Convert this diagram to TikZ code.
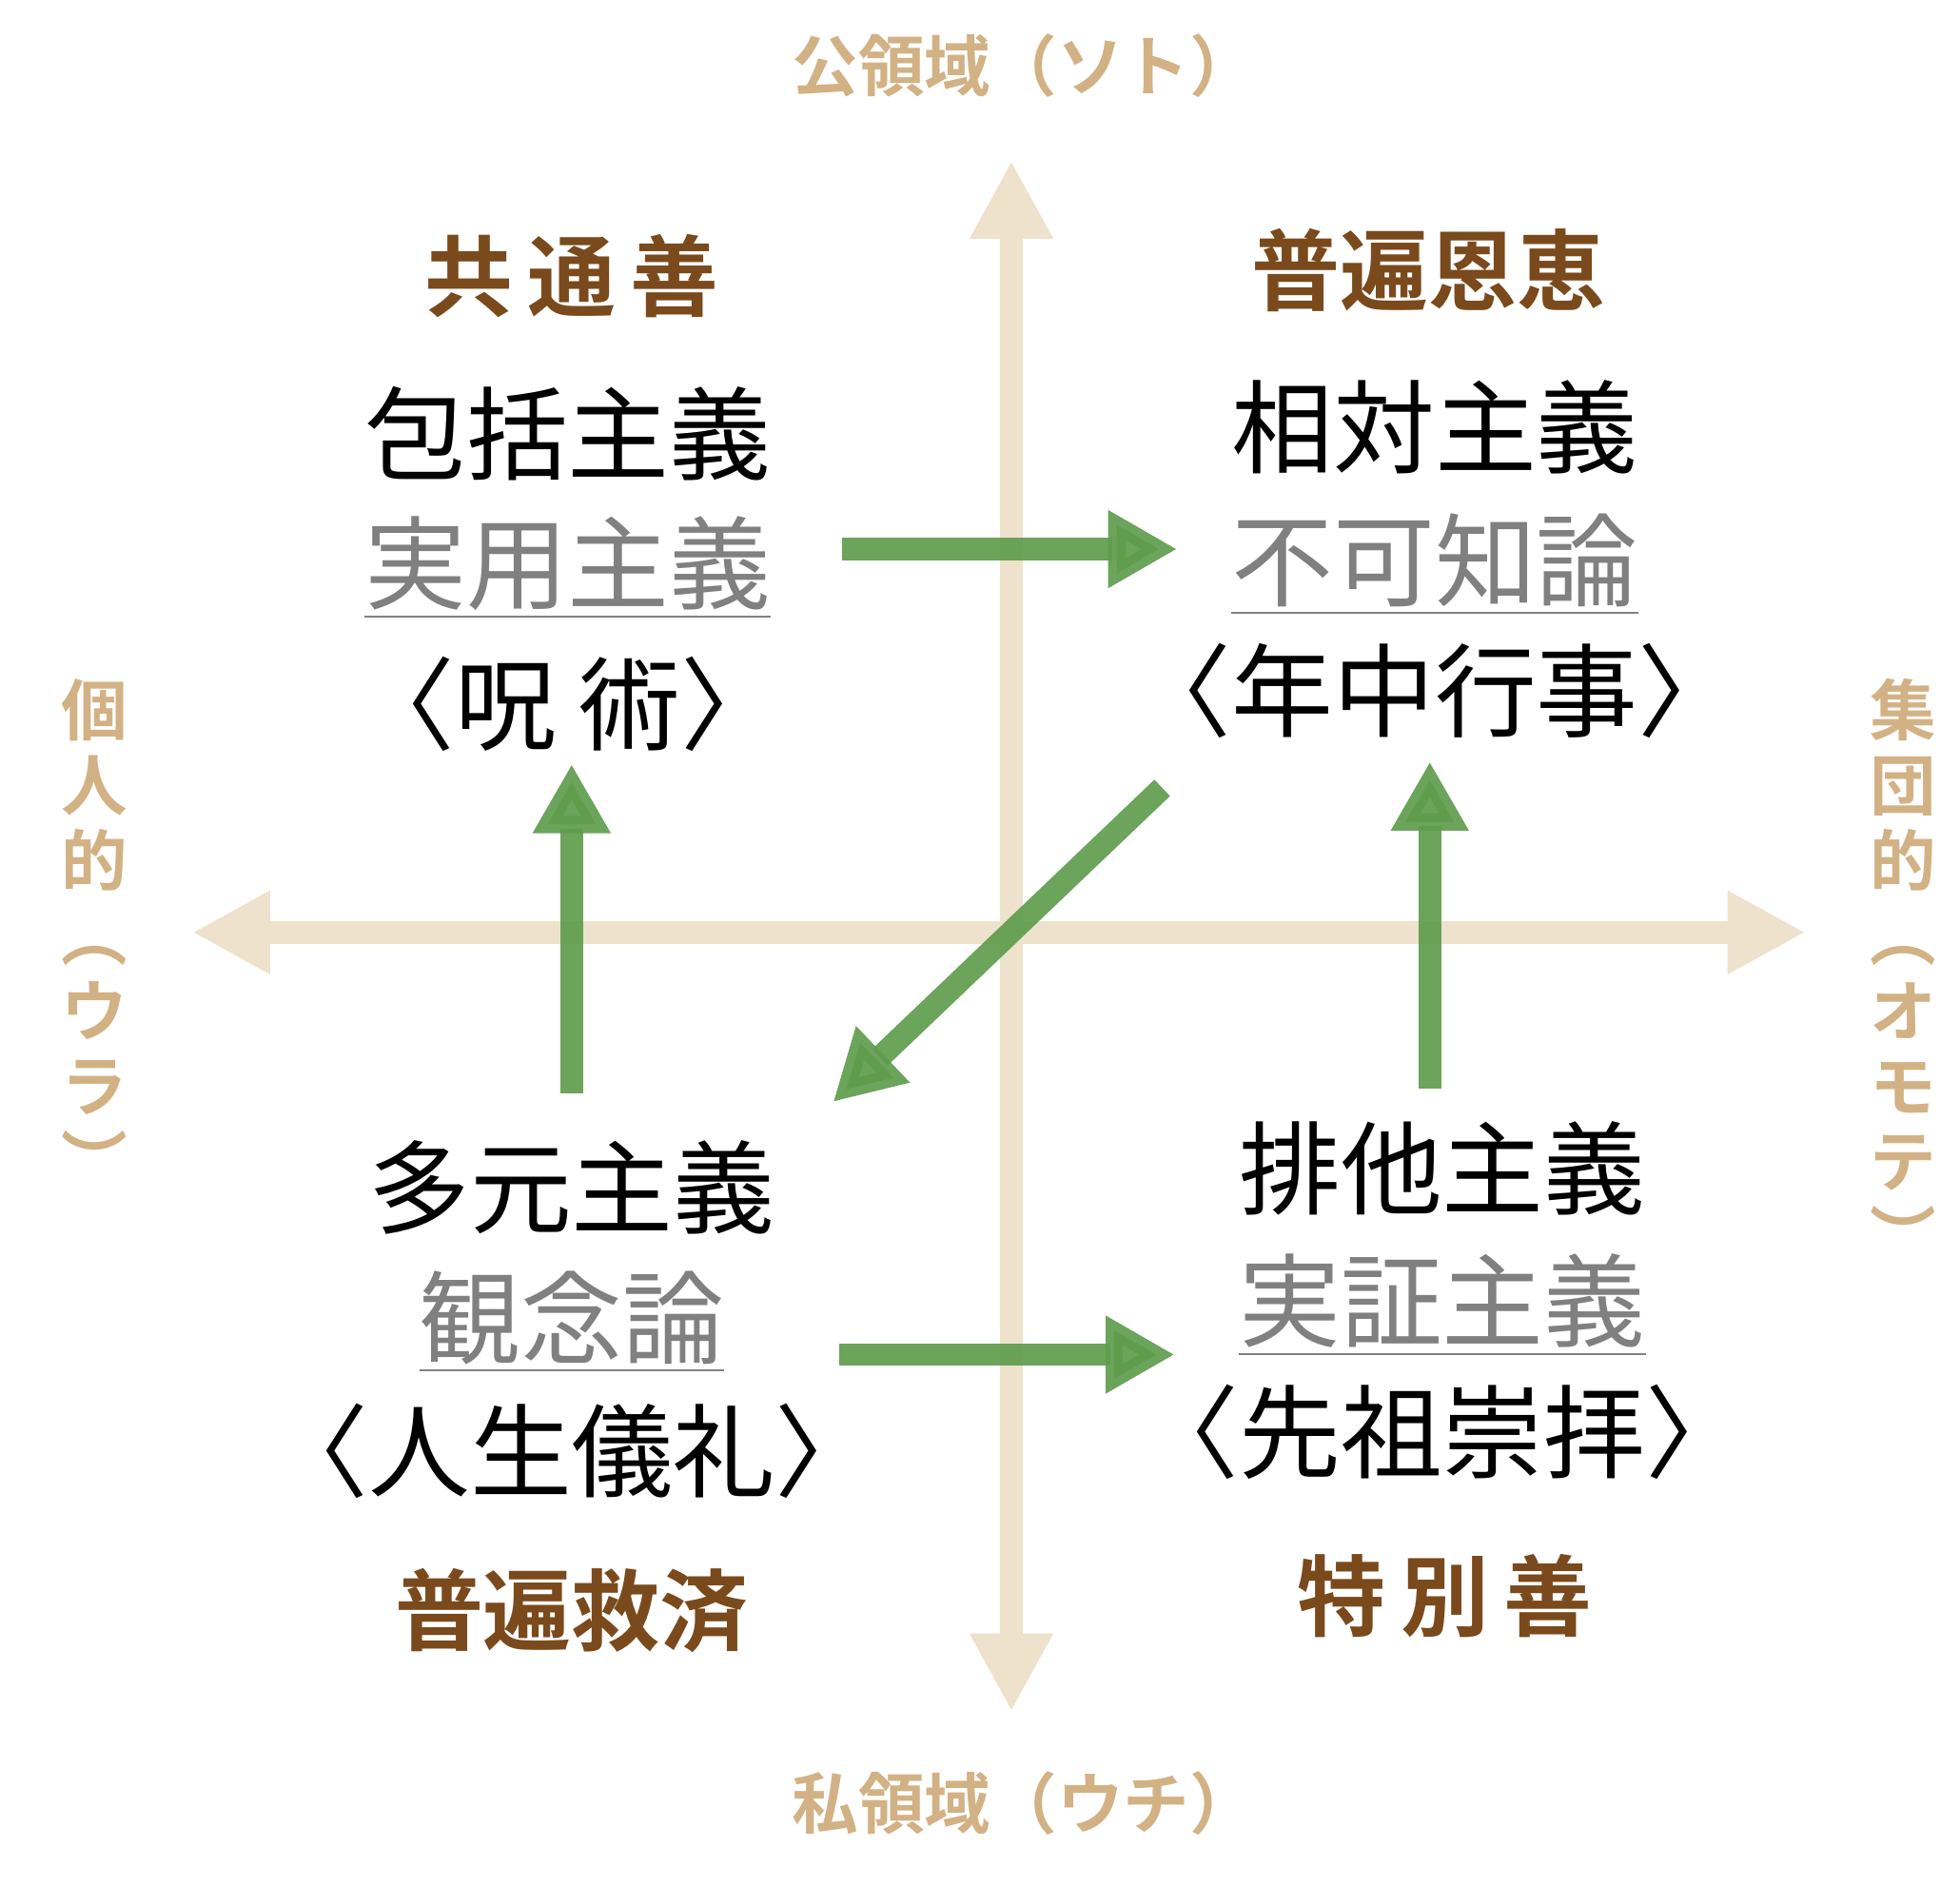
\documentclass[tikz,border=0pt]{standalone}
\usepackage{fontspec}
\newfontfamily\jp{Noto Sans CJK JP}
\newfontfamily\jpb{Noto Sans CJK JP Bold}
\usetikzlibrary{arrows.meta}
\definecolor{axisc}{HTML}{EEE2CC}
\definecolor{axl}{HTML}{D2B285}
\definecolor{brn}{HTML}{7A4A1C}
\definecolor{grn}{HTML}{5E9C4C}
\definecolor{gry}{HTML}{808080}
\tikzset{
 axis/.style={line width=0.18cm,draw=axisc,-{Triangle[width=0.62cm,length=0.62cm]}},
 garr/.style={line width=0.18cm,draw=grn,opacity=0.92,-{Triangle[width=0.58cm,length=0.55cm]}},
 axlab/.style={font=\jpb\fontsize{15}{15}\selectfont,text=axl,inner sep=0},
 vlab/.style={font=\jpb\fontsize{15}{17}\selectfont,text=axl,align=center,inner sep=0},
 title/.style={font=\jpb\fontsize{20}{20}\selectfont,text=brn,inner sep=0},
 main/.style={font=\jp\fontsize{23}{23}\selectfont,inner sep=0},
 sub/.style={font=\jp\fontsize{23}{23}\selectfont,text=gry,inner sep=0},
}
\newcommand{\ul}[1]{\underline{#1}}
\begin{document}
\begin{tikzpicture}[x=0.01cm,y=-0.01cm]
\useasboundingbox (0,0) rectangle (1560,1501);
\coordinate (vb) at (805,1362); \coordinate (vt) at (805,128);
\coordinate (hl) at (153,742); \coordinate (hr) at (1437,742);
\draw[axis] (805,742) -- (vt); \draw[axis] (805,742) -- (vb);
\draw[axis] (805,742) -- (hl); \draw[axis] (805,742) -- (hr);
\node[axlab] (top) at (815,52) {公領域（ソト）};
\node[axlab] (bot) at (815,1435) {私領域（ウチ）};
\node[vlab] (left) at (75,742) {個\\人\\的\\︵\\ウ\\ラ\\︶};
\node[vlab] (right) at (1515,772) {集\\団\\的\\︵\\オ\\モ\\テ\\︶};
\node[title] (t1) at (455,220) {共\,通\,善};
\node[title] (t2) at (1137,215) {普遍恩恵};
\node[title] (t3) at (455,1282) {普遍救済};
\node[title] (t4) at (1150,1270) {特\,別\,善};
\node[main] (a1) at (452,345) {包括主義};
\node[sub] (a2) at (452,452) {\ul{実用主義}};
\node[main] (a3) at (452,560) {〈呪 術〉};
\node[main] (b1) at (1142,340) {相対主義};
\node[sub] (b2) at (1142,449) {\ul{不可知論}};
\node[main] (b3) at (1142,550) {〈年中行事〉};
\node[main] (c1) at (455,945) {多元主義};
\node[sub] (c2) at (455,1052) {\ul{観念論}};
\node[main] (c3) at (455,1155) {〈人生儀礼〉};
\node[main] (d1) at (1148,930) {排他主義};
\node[sub] (d2) at (1148,1039) {\ul{実証主義}};
\node[main] (d3) at (1148,1140) {〈先祖崇拝〉};
\coordinate (g1s) at (670,437); \coordinate (g1e) at (937,437);
\coordinate (g2s) at (455,870); \coordinate (g2e) at (455,608);
\coordinate (g3s) at (1138,866); \coordinate (g3e) at (1138,606);
\coordinate (g4s) at (925,627); \coordinate (g4e) at (663,877);
\coordinate (g5s) at (668,1078); \coordinate (g5e) at (935,1078);
\draw[garr] (g1s) -- (g1e);
\draw[garr] (g2s) -- (g2e);
\draw[garr] (g3s) -- (g3e);
\draw[garr] (g4s) -- (g4e);
\draw[garr] (g5s) -- (g5e);
\end{tikzpicture}
\end{document}
